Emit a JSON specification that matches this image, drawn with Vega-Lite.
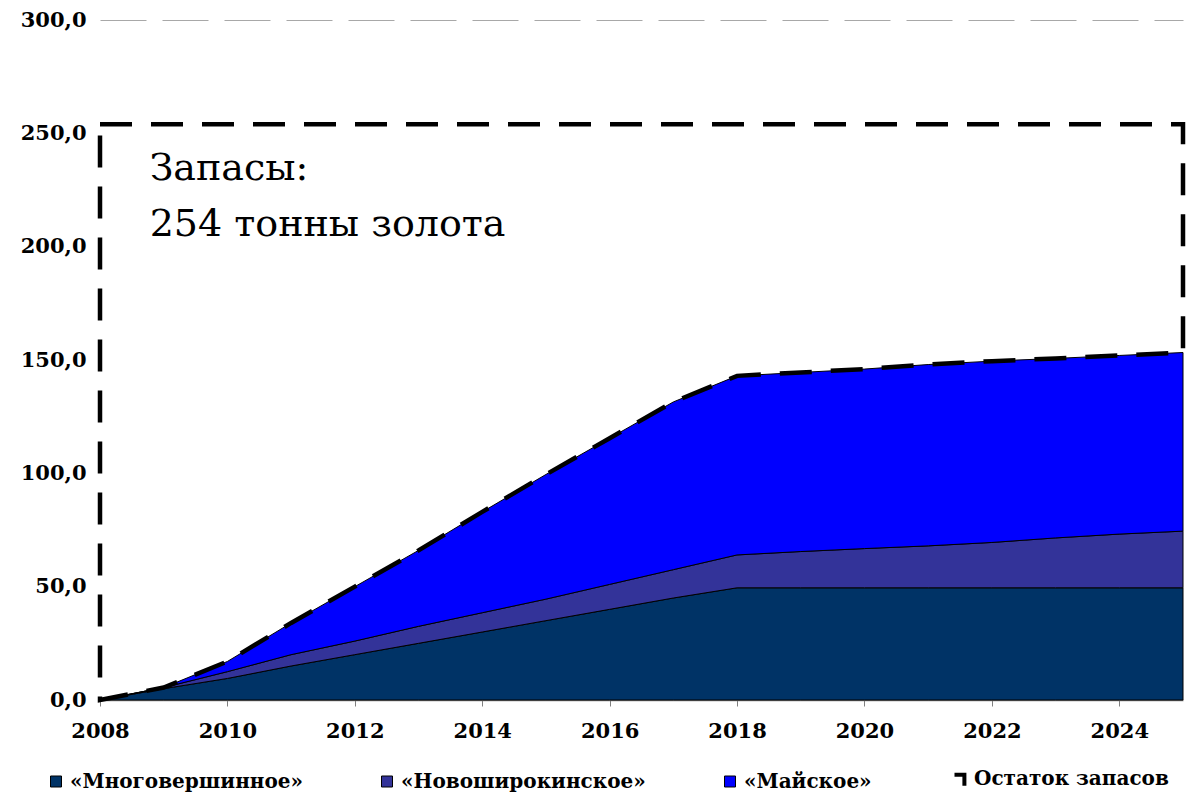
{
  "$schema": "https://vega.github.io/schema/vega-lite/v6.json",
  "width": 1083,
  "height": 680,
  "autosize": "none",
  "padding": {"left": 100, "top": 20, "right": 10, "bottom": 92},
  "background": "white",
  "config": {"view": {"stroke": null}},
  "datasets": {
    "reserves": [
      {"year": 2008, "series": "«Многовершинное»", "ord": 1, "value": 0},
      {"year": 2009, "series": "«Многовершинное»", "ord": 1, "value": 5},
      {"year": 2010, "series": "«Многовершинное»", "ord": 1, "value": 9.5},
      {"year": 2011, "series": "«Многовершинное»", "ord": 1, "value": 15},
      {"year": 2012, "series": "«Многовершинное»", "ord": 1, "value": 20},
      {"year": 2013, "series": "«Многовершинное»", "ord": 1, "value": 25},
      {"year": 2014, "series": "«Многовершинное»", "ord": 1, "value": 30},
      {"year": 2015, "series": "«Многовершинное»", "ord": 1, "value": 35},
      {"year": 2016, "series": "«Многовершинное»", "ord": 1, "value": 40},
      {"year": 2017, "series": "«Многовершинное»", "ord": 1, "value": 45},
      {"year": 2018, "series": "«Многовершинное»", "ord": 1, "value": 49.5},
      {"year": 2019, "series": "«Многовершинное»", "ord": 1, "value": 49.5},
      {"year": 2020, "series": "«Многовершинное»", "ord": 1, "value": 49.5},
      {"year": 2021, "series": "«Многовершинное»", "ord": 1, "value": 49.5},
      {"year": 2022, "series": "«Многовершинное»", "ord": 1, "value": 49.5},
      {"year": 2023, "series": "«Многовершинное»", "ord": 1, "value": 49.5},
      {"year": 2024, "series": "«Многовершинное»", "ord": 1, "value": 49.5},
      {"year": 2025, "series": "«Многовершинное»", "ord": 1, "value": 49.5},
      {"year": 2008, "series": "«Новоширокинское»", "ord": 2, "value": 0},
      {"year": 2009, "series": "«Новоширокинское»", "ord": 2, "value": 0.5},
      {"year": 2010, "series": "«Новоширокинское»", "ord": 2, "value": 3},
      {"year": 2011, "series": "«Новоширокинское»", "ord": 2, "value": 5},
      {"year": 2012, "series": "«Новоширокинское»", "ord": 2, "value": 6},
      {"year": 2013, "series": "«Новоширокинское»", "ord": 2, "value": 7.5},
      {"year": 2014, "series": "«Новоширокинское»", "ord": 2, "value": 8.5},
      {"year": 2015, "series": "«Новоширокинское»", "ord": 2, "value": 9.5},
      {"year": 2016, "series": "«Новоширокинское»", "ord": 2, "value": 11},
      {"year": 2017, "series": "«Новоширокинское»", "ord": 2, "value": 12.5},
      {"year": 2018, "series": "«Новоширокинское»", "ord": 2, "value": 14.5},
      {"year": 2019, "series": "«Новоширокинское»", "ord": 2, "value": 16},
      {"year": 2020, "series": "«Новоширокинское»", "ord": 2, "value": 17.3},
      {"year": 2021, "series": "«Новоширокинское»", "ord": 2, "value": 18.5},
      {"year": 2022, "series": "«Новоширокинское»", "ord": 2, "value": 20},
      {"year": 2023, "series": "«Новоширокинское»", "ord": 2, "value": 22},
      {"year": 2024, "series": "«Новоширокинское»", "ord": 2, "value": 23.7},
      {"year": 2025, "series": "«Новоширокинское»", "ord": 2, "value": 25},
      {"year": 2008, "series": "«Майское»", "ord": 3, "value": 0},
      {"year": 2009, "series": "«Майское»", "ord": 3, "value": 0},
      {"year": 2010, "series": "«Майское»", "ord": 3, "value": 4.5},
      {"year": 2011, "series": "«Майское»", "ord": 3, "value": 14},
      {"year": 2012, "series": "«Майское»", "ord": 3, "value": 24},
      {"year": 2013, "series": "«Майское»", "ord": 3, "value": 33.5},
      {"year": 2014, "series": "«Майское»", "ord": 3, "value": 44.5},
      {"year": 2015, "series": "«Майское»", "ord": 3, "value": 55},
      {"year": 2016, "series": "«Майское»", "ord": 3, "value": 64.5},
      {"year": 2017, "series": "«Майское»", "ord": 3, "value": 74},
      {"year": 2018, "series": "«Майское»", "ord": 3, "value": 79},
      {"year": 2019, "series": "«Майское»", "ord": 3, "value": 79},
      {"year": 2020, "series": "«Майское»", "ord": 3, "value": 79.2},
      {"year": 2021, "series": "«Майское»", "ord": 3, "value": 80},
      {"year": 2022, "series": "«Майское»", "ord": 3, "value": 80},
      {"year": 2023, "series": "«Майское»", "ord": 3, "value": 79.2},
      {"year": 2024, "series": "«Майское»", "ord": 3, "value": 78.8},
      {"year": 2025, "series": "«Майское»", "ord": 3, "value": 78.8},
      {"year": 2008, "series": "Остаток запасов", "ord": 4, "value": 254},
      {"year": 2009, "series": "Остаток запасов", "ord": 4, "value": 248.5},
      {"year": 2010, "series": "Остаток запасов", "ord": 4, "value": 237},
      {"year": 2011, "series": "Остаток запасов", "ord": 4, "value": 220},
      {"year": 2012, "series": "Остаток запасов", "ord": 4, "value": 204},
      {"year": 2013, "series": "Остаток запасов", "ord": 4, "value": 188},
      {"year": 2014, "series": "Остаток запасов", "ord": 4, "value": 171},
      {"year": 2015, "series": "Остаток запасов", "ord": 4, "value": 154.5},
      {"year": 2016, "series": "Остаток запасов", "ord": 4, "value": 138.5},
      {"year": 2017, "series": "Остаток запасов", "ord": 4, "value": 122.5},
      {"year": 2018, "series": "Остаток запасов", "ord": 4, "value": 111},
      {"year": 2019, "series": "Остаток запасов", "ord": 4, "value": 109.5},
      {"year": 2020, "series": "Остаток запасов", "ord": 4, "value": 108},
      {"year": 2021, "series": "Остаток запасов", "ord": 4, "value": 106},
      {"year": 2022, "series": "Остаток запасов", "ord": 4, "value": 104.5},
      {"year": 2023, "series": "Остаток запасов", "ord": 4, "value": 103.3},
      {"year": 2024, "series": "Остаток запасов", "ord": 4, "value": 102},
      {"year": 2025, "series": "Остаток запасов", "ord": 4, "value": 100.7}
    ]
  },
  "layer": [
    {
      "data": {"name": "reserves"},
      "mark": {"type": "area", "stroke": "black", "strokeWidth": 1, "interpolate": "linear"},
      "encoding": {
        "x": {
          "field": "year", "type": "quantitative",
          "scale": {"domain": [2008, 2025], "nice": false, "zero": false},
          "axis": {
            "title": null, "values": [2008, 2010, 2012, 2014, 2016, 2018, 2020, 2022, 2024],
            "format": "d", "grid": false, "domainColor": "#808080", "domainWidth": 1.5,
            "tickColor": "#808080", "tickSize": 6, "labelPadding": 14,
            "labelFont": "DejaVu Serif", "labelFontWeight": "bold", "labelFontSize": 21,
            "labelColor": "black", "labelFlush": false
          }
        },
        "y": {
          "field": "value", "type": "quantitative", "stack": "zero",
          "scale": {"domain": [0, 300], "nice": false},
          "axis": {
            "title": null, "values": [0, 50, 100, 150, 200, 250, 300],
            "labelExpr": "replace(format(datum.value, '.1f'), '.', ',')",
            "domain": false, "ticks": false, "labelPadding": 14,
            "grid": true, "gridColor": "#a8a8a8", "gridDash": [46, 16], "gridWidth": 1,
            "gridOpacity": {"condition": {"test": "datum.value === 300", "value": 1}, "value": 0},
            "labelFont": "DejaVu Serif", "labelFontWeight": "bold", "labelFontSize": 21,
            "labelColor": "black"
          }
        },
        "order": {"field": "ord", "type": "quantitative"},
        "fill": {
          "field": "series", "type": "nominal",
          "scale": {
            "domain": ["«Многовершинное»", "«Новоширокинское»", "«Майское»", "Остаток запасов"],
            "range": ["#003366", "#333399", "#0000ff", "transparent"]
          },
          "legend": {
            "title": null, "orient": "none", "direction": "horizontal",
            "legendX": -54, "legendY": 749, "padding": 0,
            "symbolType": "square", "symbolSize": 121, "symbolStrokeColor": "black",
            "symbolStrokeWidth": 1, "labelOffset": 4, "columnPadding": 74,
            "labelFont": "DejaVu Serif", "labelFontWeight": "bold", "labelFontSize": 20,
            "labelColor": "black", "labelLimit": 400,
            "encode": {
              "symbols": {
                "update": {
                  "shape": {"signal": "datum.value === 'Остаток запасов' ? 'M -1 -0.8 H 0.8 V 1.2' : 'square'"},
                  "strokeWidth": {"signal": "datum.value === 'Остаток запасов' ? 4 : 1"}
                }
              }
            }
          }
        },
        "strokeOpacity": {
          "condition": {"test": "datum.series === 'Остаток запасов'", "value": 0},
          "value": 1
        }
      }
    },
    {
      "data": {"name": "reserves"},
      "mark": {"type": "area", "fill": null, "fillOpacity": 0, "stroke": "black", "strokeWidth": 4.5, "strokeDash": [32, 19], "interpolate": "linear"},
      "encoding": {
        "x": {"field": "year", "type": "quantitative"},
        "y": {"field": "value", "type": "quantitative", "stack": "zero"},
        "order": {"field": "ord", "type": "quantitative"},
        "detail": {"field": "series", "type": "nominal"},
        "strokeOpacity": {
          "condition": {"test": "datum.series === 'Остаток запасов'", "value": 1},
          "value": 0
        }
      }
    },
    {
      "data": {"values": [
        {"year": 2008.78, "value": 229.5, "label": "Запасы:"},
        {"year": 2008.78, "value": 204.5, "label": "254 тонны золота"}
      ]},
      "mark": {"type": "text", "align": "left", "baseline": "alphabetic", "font": "DejaVu Serif", "fontSize": 38, "fontWeight": "normal", "color": "black"},
      "encoding": {
        "x": {"field": "year", "type": "quantitative"},
        "y": {"field": "value", "type": "quantitative"},
        "text": {"field": "label"}
      }
    }
  ]
}
